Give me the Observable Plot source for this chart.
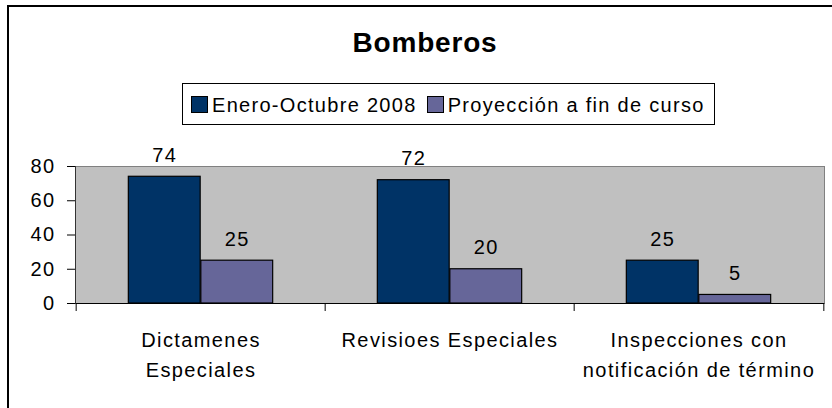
<!DOCTYPE html>
<html>
<head>
<meta charset="utf-8">
<script src="https://cdn.jsdelivr.net/npm/d3@7"></script>
<script src="https://cdn.jsdelivr.net/npm/@observablehq/plot@0.6"></script>
<style>
  html, body { margin: 0; padding: 0; background: #fff; }
  #wrap { position: relative; width: 832px; height: 408px; overflow: hidden;
          font-family: 'Liberation Sans', Arial, sans-serif; color: #000; }
  #outer { position: absolute; left: 7px; top: 5px; width: 880px; height: 440px;
           border: 2px solid #000; }
  #title { position: absolute; left: 8px; width: 834px; top: 27px; text-align: center;
           font-size: 28px; font-weight: bold; letter-spacing: 0.8px; line-height: normal; }
  #legend { position: absolute; left: 182px; top: 83px; width: 533px; height: 42px;
            box-sizing: border-box; border: 1px solid #000; background: #fff;
            display: flex; flex-wrap: nowrap; align-items: center; padding-left: 8px;
            font-size: 20px; letter-spacing: 1.3px; white-space: nowrap; overflow: hidden; }
  .item { display: flex; align-items: center; margin-right: 10px; flex-shrink: 0; white-space: nowrap; }
  .sw { width: 17px; height: 17px; box-sizing: border-box; border: 1px solid #000;
        margin-right: 4px; flex-shrink: 0; }
  .item span { line-height: 20px; position: relative; top: 1px; }
  #chart { position: absolute; left: 0; top: 130px; }
</style>
</head>
<body>
<div id="wrap">
  <div id="outer"></div>
  <div id="title"></div>
  <div id="legend"></div>
  <div id="chart"></div>
</div>
<script>
const chartTitle = "Bomberos";
const categories = ["Dictamenes Especiales", "Revisioes Especiales", "Inspecciones con notificación de término"];
const categoryLabels = ["Dictamenes\nEspeciales", "Revisioes Especiales", "Inspecciones con\nnotificación de término"];
const seriesNames = ["Enero-Octubre 2008", "Proyección a fin de curso"];
const eneroOctubre = [74, 72, 25];
const proyeccion = [25, 20, 5];
const yTicks = [0, 20, 40, 60, 80];
const seriesColors = ["#003366", "#666699"];

const data = categories.flatMap((c, i) => [
  {cat: c, series: seriesNames[0], value: eneroOctubre[i]},
  {cat: c, series: seriesNames[1], value: proyeccion[i]}
]);

document.getElementById("title").textContent = chartTitle;
const legend = document.getElementById("legend");
seriesNames.forEach((s, i) => {
  const item = document.createElement("div");
  item.className = "item";
  const sw = document.createElement("div");
  sw.className = "sw";
  sw.style.background = seriesColors[i];
  const t = document.createElement("span");
  t.textContent = s;
  item.appendChild(sw);
  item.appendChild(t);
  legend.appendChild(item);
});

const W = 832, H = 278, mL = 75, mR = 8, mT = 36, mB = 105;
const bw = (W - mL - mR) / categories.length;
const gap = bw * 0.2096;
const barW = (bw - 2 * gap) / 2;
const s0 = data.filter(d => d.series === seriesNames[0]);
const s1 = data.filter(d => d.series === seriesNames[1]);

const plot = Plot.plot({
  width: W, height: H,
  marginLeft: mL, marginRight: mR, marginTop: mT, marginBottom: mB,
  style: {fontFamily: "'Liberation Sans', Arial, sans-serif", fontSize: "20px",
          letterSpacing: "1.4px", color: "#000", background: "transparent", overflow: "visible"},
  x: {type: "band", domain: categories, padding: 0, axis: null},
  y: {domain: [0, 80], axis: null},
  marks: [
    Plot.frame({fill: "#c0c0c0", stroke: "#808080"}),
    Plot.barY(s0, {x: "cat", y: "value", fill: seriesColors[0], stroke: "#000", strokeWidth: 1.2,
                   insetLeft: gap, insetRight: gap + barW}),
    Plot.barY(s1, {x: "cat", y: "value", fill: seriesColors[1], stroke: "#000", strokeWidth: 1.2,
                   insetLeft: gap + barW, insetRight: gap}),
    Plot.ruleY([0], {stroke: "#000"}),
    Plot.frame({anchor: "left", stroke: "#333"}),
    Plot.axisY({ticks: yTicks, tickSize: 8, tickPadding: 12, tickFormat: d => String(d), label: null, stroke: "#000"}),
    Plot.ruleX(categories, {x: d => d, y1: 0, y2: 0, insetBottom: -8, dx: -bw / 2, stroke: "#000"}),
    Plot.ruleX([categories[categories.length - 1]], {x: d => d, y1: 0, y2: 0, insetBottom: -8, dx: bw / 2, stroke: "#000"}),
    Plot.text(categories, {x: d => d, frameAnchor: "bottom", lineAnchor: "top", dy: 22, lineHeight: 1.5,
                           text: (d, i) => categoryLabels[i], fill: "#000"}),
    Plot.text(s0, {x: "cat", y: "value", text: d => String(d.value), dx: -barW / 2, dy: -15,
                   lineAnchor: "bottom", fill: "#000"}),
    Plot.text(s1, {x: "cat", y: "value", text: d => String(d.value), dx: barW / 2, dy: -15,
                   lineAnchor: "bottom", fill: "#000"})
  ]
});
document.getElementById("chart").appendChild(plot);
</script>
</body>
</html>
